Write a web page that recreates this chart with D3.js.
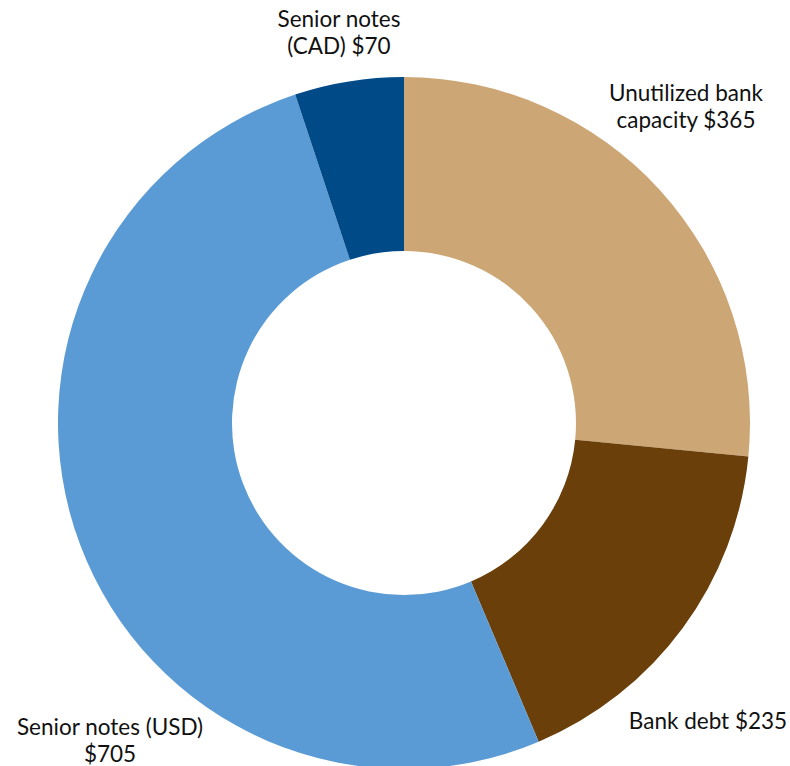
<!DOCTYPE html>
<html>
<head>
<meta charset="utf-8">
<script src="https://cdn.jsdelivr.net/npm/d3@7"></script>
<style>
  html, body { margin: 0; padding: 0; background: #fff; }
  svg text { font-family: Lato, "Open Sans", sans-serif; font-size: 22.5px; fill: #111; }
</style>
</head>
<body>
<svg id="chart" width="790" height="766"></svg>
<script>
// Debt structure (millions)
const categories = ["Unutilized bank capacity", "Bank debt", "Senior notes (USD)", "Senior notes (CAD)"];
const values = [365, 235, 705, 70];
const colors = ["#CCA675", "#6A3F0A", "#5B9BD5", "#004B87"];
const labelLines = [
  ["Unutilized bank", "capacity $365"],
  ["Bank debt $235"],
  ["Senior notes (USD)", "$705"],
  ["Senior notes", "(CAD) $70"]
];
const labelPos = [[686, 101], [708, 729], [110, 735], [339, 27]];

const svg = d3.select("#chart");
const cx = 404, cy = 423, outerR = 346, innerR = 172;

const pie = d3.pie().sort(null).value(d => d)(values);
const arc = d3.arc().innerRadius(innerR).outerRadius(outerR);

const g = svg.append("g").attr("transform", `translate(${cx},${cy})`);
g.selectAll("path")
  .data(pie)
  .join("path")
  .attr("d", arc)
  .attr("fill", (d, i) => colors[i]);

const lineH = 27;
categories.forEach((c, i) => {
  const t = svg.append("text")
    .attr("text-anchor", "middle")
    .attr("x", labelPos[i][0])
    .attr("y", labelPos[i][1]);
  labelLines[i].forEach((s, j) => {
    t.append("tspan").attr("x", labelPos[i][0]).attr("dy", j === 0 ? 0 : lineH).text(s);
  });
});
</script>
</body>
</html>
